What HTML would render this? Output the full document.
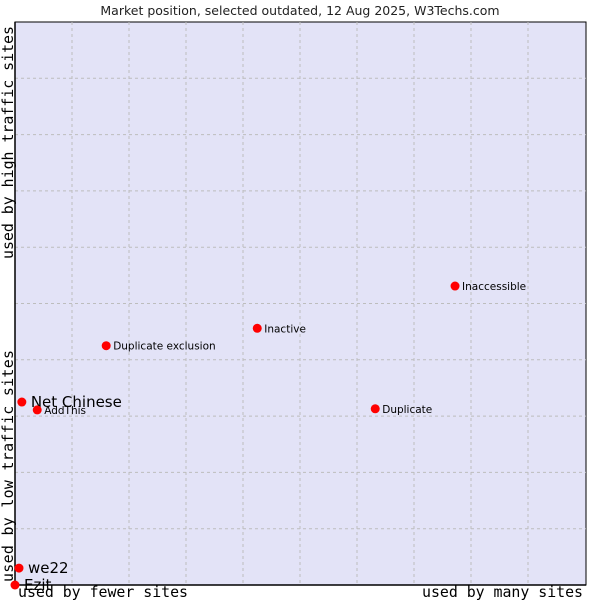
<!DOCTYPE html>
<html><head><meta charset="utf-8"><style>
body{margin:0;background:#fff;width:600px;height:600px;overflow:hidden}
svg{display:block}
</style></head><body>
<svg width="600" height="600" xmlns="http://www.w3.org/2000/svg">
<text x="300" y="15" text-anchor="middle" font-family="DejaVu Sans, sans-serif" font-size="12.5" fill="#222">Market position, selected outdated, 12 Aug 2025, W3Techs.com</text>
<rect x="15" y="22" width="571" height="563" fill="#e3e3f7" stroke="#000" stroke-width="1"/>
<g id="grid"></g>
<line x1="15" y1="22" x2="15" y2="585" stroke="#000" stroke-width="1.5"/>
<line x1="15" y1="585" x2="586" y2="585" stroke="#000" stroke-width="1.5"/>
<g id="points"></g>
<text x="18" y="597" textLength="170" font-family="DejaVu Sans Mono, Liberation Mono, monospace" font-size="14.9" fill="#000">used by fewer sites</text>
<text x="422" y="597" textLength="161" font-family="DejaVu Sans Mono, Liberation Mono, monospace" font-size="14.9" fill="#000">used by many sites</text>
<text transform="translate(13,582) rotate(-90)" textLength="232" font-family="DejaVu Sans Mono, Liberation Mono, monospace" font-size="14.9" fill="#000">used by low traffic sites</text>
<text transform="translate(13,259) rotate(-90)" textLength="233" font-family="DejaVu Sans Mono, Liberation Mono, monospace" font-size="14.9" fill="#000">used by high traffic sites</text>
</svg>
<script>
const names=["Net Chinese","AddThis","Duplicate exclusion","Inactive","Inaccessible","Duplicate","we22","Ezit"];
const xVals=[1.2,3.9,16.0,42.5,77.2,63.2,0.7,0.0];
const yVals=[32.5,31.1,42.5,45.6,53.1,31.3,3.0,0.0];
const highlight=[true,false,false,false,false,false,true,true];
const ns="http://www.w3.org/2000/svg";
const X=v=>15+v*5.7, Y=v=>585-v*5.63;
const g=document.getElementById('grid');
for(let i=1;i<10;i++){
  const l=document.createElementNS(ns,'line');
  l.setAttribute('x1',X(i*10));l.setAttribute('x2',X(i*10));l.setAttribute('y1',22);l.setAttribute('y2',585);
  l.setAttribute('stroke','#bdbdbd');l.setAttribute('stroke-dasharray','3,3');
  
  
  g.appendChild(l);
  const h=document.createElementNS(ns,'line');
  h.setAttribute('y1',Y(i*10));h.setAttribute('y2',Y(i*10));h.setAttribute('x1',15);h.setAttribute('x2',586);
  h.setAttribute('stroke','#bdbdbd');h.setAttribute('stroke-dasharray','3,3');
  
  
  g.appendChild(h);
}
const p=document.getElementById('points');
names.forEach((n,i)=>{
  const cx=X(xVals[i]),cy=Y(yVals[i]);
  const c=document.createElementNS(ns,'circle');
  c.setAttribute('cx',cx);c.setAttribute('cy',cy);c.setAttribute('r',4.5);c.setAttribute('fill','#f00');
  
  
  p.appendChild(c);
  const t=document.createElementNS(ns,'text');
  const big=highlight[i];
  t.setAttribute('x',cx+(big?9:7));t.setAttribute('y',cy+(big?5:4));
  t.setAttribute('font-family','DejaVu Sans, sans-serif');
  t.setAttribute('font-size',big?15:10.5);t.setAttribute('fill','#000');
  t.textContent=n;
  
  
  p.appendChild(t);
});
</script>
</body></html>
